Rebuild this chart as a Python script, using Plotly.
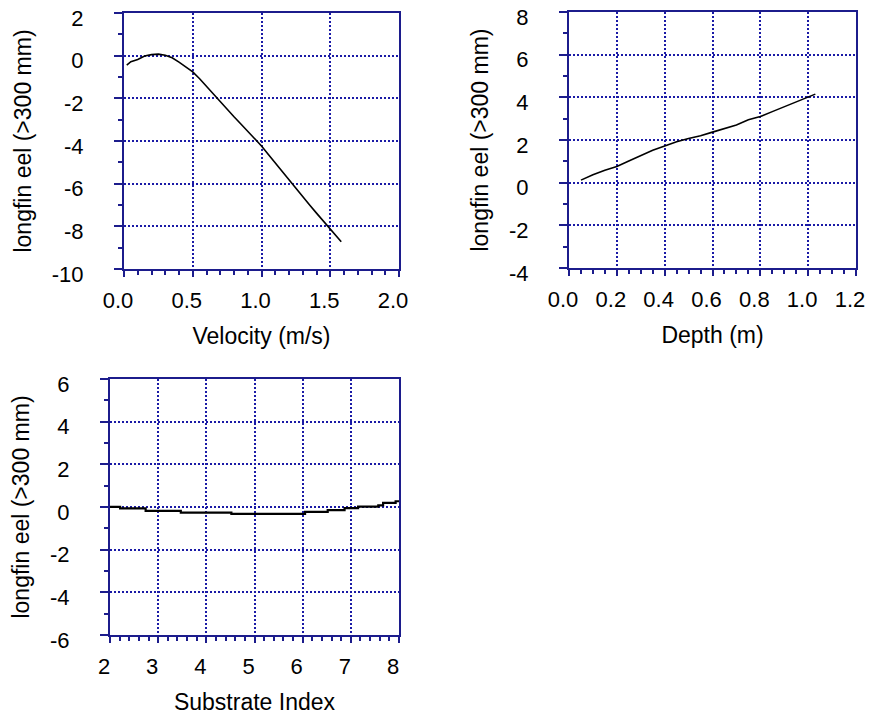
import plotly.graph_objects as go

# Partial response of longfin eel (>300 mm) to each habitat variable
velocity = [0.02, 0.05, 0.10, 0.15, 0.20, 0.25, 0.30, 0.35, 0.40, 0.45, 0.50,
            0.55, 0.60, 0.65, 0.70, 0.75, 0.80, 0.85, 0.90, 0.95, 1.00, 1.05,
            1.10, 1.15, 1.20, 1.25, 1.30, 1.35, 1.40, 1.45, 1.50, 1.55, 1.58]
velocity_effect = [-0.44, -0.28, -0.18, -0.02, 0.05, 0.07, 0.02, -0.10, -0.30,
                   -0.52, -0.76, -1.08, -1.44, -1.82, -2.18, -2.52, -2.86, -3.20,
                   -3.54, -3.88, -4.23, -4.63, -5.03, -5.44, -5.85, -6.24, -6.62,
                   -7.00, -7.38, -7.76, -8.14, -8.50, -8.72]

depth = [0.05, 0.10, 0.15, 0.20, 0.25, 0.30, 0.35, 0.40, 0.45, 0.50, 0.55,
         0.60, 0.65, 0.70, 0.75, 0.80, 0.85, 0.90, 0.95, 1.00, 1.03]
depth_effect = [0.12, 0.37, 0.58, 0.76, 1.02, 1.27, 1.52, 1.72, 1.92, 2.07, 2.20,
                2.37, 2.52, 2.70, 2.95, 3.10, 3.33, 3.56, 3.80, 4.00, 4.15]

substrate = [2.0, 2.21, 2.74, 3.47, 4.52, 6.05, 6.52, 6.87, 7.15, 7.57, 7.67, 7.93, 8.0]
substrate_effect = [0.01, -0.06, -0.18, -0.26, -0.32, -0.23, -0.15, -0.05, 0.02,
                    0.08, 0.19, 0.27, 0.27]

# Tick positions and their printed labels
velocity_ticks = [0.0, 0.5, 1.0, 1.5, 2.0]
velocity_labels = ["0.0", "0.5", "1.0", "1.5", "2.0"]
depth_ticks = [0.0, 0.2, 0.4, 0.6, 0.8, 1.0, 1.2]
depth_labels = ["0.0", "0.2", "0.4", "0.6", "0.8", "1.0", "1.2"]
substrate_ticks = [2, 3, 4, 5, 6, 7, 8]
substrate_labels = ["2", "3", "4", "5", "6", "7", "8"]
y1_ticks = [-10, -8, -6, -4, -2, 0, 2]
y1_labels = ["-10", "-8", "-6", "-4", "-2", "0", "2"]
y2_ticks = [-4, -2, 0, 2, 4, 6, 8]
y2_labels = ["-4", "-2", "0", "2", "4", "6", "8"]
y3_ticks = [-6, -4, -2, 0, 2, 4, 6]
y3_labels = ["-6", "-4", "-2", "0", "2", "4", "6"]

y_title = "longfin eel (>300 mm)"
FONT = "Arial, Liberation Sans, sans-serif"
TICK_FS = 22
TITLE_FS = 23
NAVY = "#1c1c8c"
GRID = "#1a1aa6"

fig = go.Figure()
fig.add_trace(go.Scatter(x=velocity, y=velocity_effect, mode="lines",
                         line=dict(color="black", width=1.6), xaxis="x", yaxis="y"))
fig.add_trace(go.Scatter(x=depth, y=depth_effect, mode="lines",
                         line=dict(color="black", width=1.6), xaxis="x2", yaxis="y2"))
fig.add_trace(go.Scatter(x=substrate, y=substrate_effect, mode="lines",
                         line=dict(color="black", width=2.2, shape="hv"),
                         xaxis="x3", yaxis="y3"))


def common(rng, tickvals, ticktext, minor, ticklen, standoff, shift, anchor):
    return dict(range=rng, tickmode="array", tickvals=tickvals, ticktext=ticktext,
                automargin=False, ticklabeloverflow="allow",
                showline=True, linecolor=NAVY, linewidth=2, mirror=True,
                ticks="outside", ticklen=ticklen, tickwidth=2, tickcolor=NAVY,
                ticklabelstandoff=standoff, ticklabelshift=shift,
                minor=dict(tickmode="linear", tick0=rng[0], dtick=minor,
                           ticks="outside", ticklen=4, tickwidth=1.5,
                           tickcolor=NAVY, showgrid=False),
                showgrid=True, gridcolor=GRID, gridwidth=1.6, griddash="2px,2px",
                zeroline=False, anchor=anchor,
                tickfont=dict(family=FONT, size=TICK_FS, color="black"))


def xax(domain, rng, tickvals, ticktext, minor, title, anchor):
    d = common(rng, tickvals, ticktext, minor, 6, 5, -6, anchor)
    d.update(domain=domain,
             title=dict(text=title, standoff=15,
                        font=dict(family=FONT, size=TITLE_FS, color="black")))
    return d


def yax(domain, rng, tickvals, ticktext, anchor):
    d = common(rng, tickvals, ticktext, 1, 8, 26, 5, anchor)
    d.update(domain=domain,
             title=dict(text=y_title, standoff=14,
                        font=dict(family=FONT, size=TITLE_FS, color="black")))
    return d


W, H = 870, 718
fig.update_layout(
    width=W, height=H,
    margin=dict(l=0, r=0, t=0, b=0),
    paper_bgcolor="white", plot_bgcolor="white",
    showlegend=False,
    xaxis=xax([124 / W, 399 / W], [0, 2], velocity_ticks, velocity_labels, 0.1,
              "Velocity (m/s)", "y"),
    yaxis=yax([1 - 269 / H, 1 - 13 / H], [-10, 2], y1_ticks, y1_labels, "x"),
    xaxis2=xax([569 / W, 856 / W], [0, 1.2], depth_ticks, depth_labels, 0.05,
               "Depth (m)", "y2"),
    yaxis2=yax([1 - 268 / H, 1 - 12 / H], [-4, 8], y2_ticks, y2_labels, "x2"),
    xaxis3=xax([110 / W, 399 / W], [2, 8], substrate_ticks, substrate_labels, 0.2,
               "Substrate Index", "y3"),
    yaxis3=yax([1 - 635 / H, 1 - 379 / H], [-6, 6], y3_ticks, y3_labels, "x3"),
)

fig.write_html("out.html")
